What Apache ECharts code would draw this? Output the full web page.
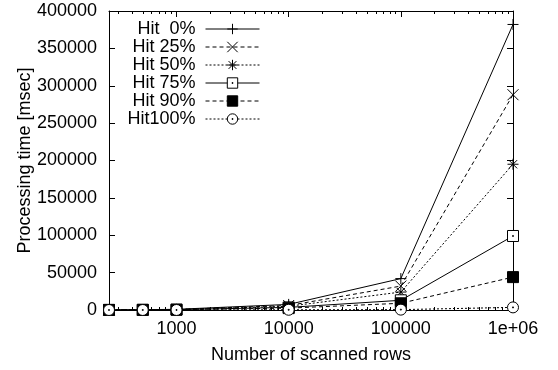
<!DOCTYPE html>
<html>
<head>
<meta charset="utf-8">
<script src="https://cdn.jsdelivr.net/npm/echarts@6/dist/echarts.min.js"></script>
<style>
  html, body { margin: 0; padding: 0; background: #fff; }
  #chart { width: 558px; height: 370px; }
</style>
</head>
<body>
<div id="chart"></div>
<script>
// scanned rows (x) and processing time in msec per hit ratio
const rows = [250, 500, 1000, 10000, 100000, 1000000];
const hit0 = [200, 400, 900, 7500, 42000, 382000];
const hit25 = [180, 350, 750, 6000, 32000, 288000];
const hit50 = [150, 300, 600, 5000, 24000, 195000];
const hit75 = [120, 250, 500, 3500, 13000, 99000];
const hit90 = [100, 200, 400, 2500, 9000, 44000];
const hit100 = [10, 20, 40, 300, 500, 3500];
const names = ['Hit  0%', 'Hit 25%', 'Hit 50%', 'Hit 75%', 'Hit 90%', 'Hit100%'];

const xMajor = [1000, 10000, 100000, 1000000];
const xMinor = [300, 400, 500, 600, 700, 800, 900,
  2000, 3000, 4000, 5000, 6000, 7000, 8000, 9000,
  20000, 30000, 40000, 50000, 60000, 70000, 80000, 90000,
  200000, 300000, 400000, 500000, 600000, 700000, 800000, 900000];

const FONT = 'Liberation Sans, Arial, sans-serif';
const FS = 18;

// gnuplot like point shapes
const symPlus = 'path://M0,6L12,6M6,0L6,12';
const symCross = 'path://M0,0L12,12M12,0L0,12';
const symStar = 'path://M0,6L12,6M6,0L6,12M1.5,1.5L10.5,10.5M10.5,1.5L1.5,10.5';
const symBox = 'path://M0,0L12,0L12,12L0,12ZM5.5,5.5L6.5,5.5L6.5,6.5L5.5,6.5Z';
const symFill = 'path://M0,0L12,0L12,12L0,12Z';
const symCircle = 'path://M12,6A6,6,0,1,1,0,6A6,6,0,1,1,12,6ZM5.5,5.5L6.5,5.5L6.5,6.5L5.5,6.5Z';

const seriesDefs = [
  { data: hit0, symbol: symPlus, dash: 'solid', fill: 'none' },
  { data: hit25, symbol: symCross, dash: [4, 3], fill: 'none' },
  { data: hit50, symbol: symStar, dash: [2, 2], fill: 'none' },
  { data: hit75, symbol: symBox, dash: 'solid', fill: '#fff' },
  { data: hit90, symbol: symFill, dash: [4, 3], fill: '#000' },
  { data: hit100, symbol: symCircle, dash: [2, 2], fill: '#fff' }
];

const chart = echarts.init(document.getElementById('chart'));

function xAxisDef(pos, ticks, len, withLabel) {
  return {
    type: 'log',
    position: pos,
    min: 250,
    max: 1000000,
    axisLine: { show: withLabel !== null, lineStyle: { color: '#000', width: 1 } },
    axisTick: { show: true, inside: true, length: len, customValues: ticks, lineStyle: { color: '#000' } },
    axisLabel: {
      show: !!withLabel,
      customValues: xMajor,
      margin: 10,
      color: '#000',
      fontSize: FS,
      fontFamily: FONT,
      formatter: v => (v >= 1000000 ? '1e+06' : String(v))
    },
    splitLine: { show: false },
    minorTick: { show: false }
  };
}

const xAxes = [
  xAxisDef('bottom', xMajor, 6, true),
  xAxisDef('bottom', xMinor, 3, null),
  xAxisDef('top', xMajor, 6, false),
  xAxisDef('top', xMinor, 3, null)
];
xAxes[0].name = 'Number of scanned rows';
xAxes[0].nameLocation = 'middle';
xAxes[0].nameGap = 36;
xAxes[0].nameTextStyle = { color: '#000', fontSize: FS, fontFamily: FONT };

function yAxisDef(pos, withLabel) {
  return {
    type: 'value',
    position: pos,
    min: 0,
    max: 400000,
    interval: 50000,
    axisLine: { show: true, lineStyle: { color: '#000', width: 1 } },
    axisTick: { show: true, inside: true, length: 6, lineStyle: { color: '#000' } },
    axisLabel: {
      show: withLabel,
      margin: 12,
      color: '#000',
      fontSize: FS,
      fontFamily: FONT,
      formatter: v => String(v)
    },
    splitLine: { show: false }
  };
}

const yAxes = [yAxisDef('left', true), yAxisDef('right', false)];
yAxes[0].name = 'Processing time [msec]';
yAxes[0].nameLocation = 'middle';
yAxes[0].nameGap = 75;
yAxes[0].nameMoveOverlap = false;
yAxes[0].nameTextStyle = { color: '#000', fontSize: FS, fontFamily: FONT };

const option = {
  animation: false,
  backgroundColor: '#fff',
  grid: { left: 109, right: 45, top: 11, bottom: 60, containLabel: false },
  legend: {
    orient: 'vertical',
    align: 'right',
    right: 298,
    top: 20,
    padding: 0,
    itemGap: 0,
    itemWidth: 54,
    itemHeight: 13,
    selectedMode: false,
    lineStyle: { width: 1 },
    itemStyle: { borderWidth: 1 },
    textStyle: { color: '#000', fontSize: FS, fontFamily: FONT, lineHeight: 18, padding: [0, 5, 0, 0] },
    data: names
  },
  xAxis: xAxes,
  yAxis: yAxes,
  series: seriesDefs.map((s, i) => ({
    name: names[i],
    type: 'line',
    xAxisIndex: 0,
    yAxisIndex: 0,
    data: rows.map((x, j) => [x, s.data[j]]),
    symbol: s.symbol,
    symbolSize: 11,
    showAllSymbol: true,
    lineStyle: { color: '#000', width: 1, type: s.dash },
    itemStyle: { color: s.fill, borderColor: '#000', borderWidth: 1 },
    emphasis: { disabled: true }
  }))
};

chart.setOption(option);
</script>
</body>
</html>
